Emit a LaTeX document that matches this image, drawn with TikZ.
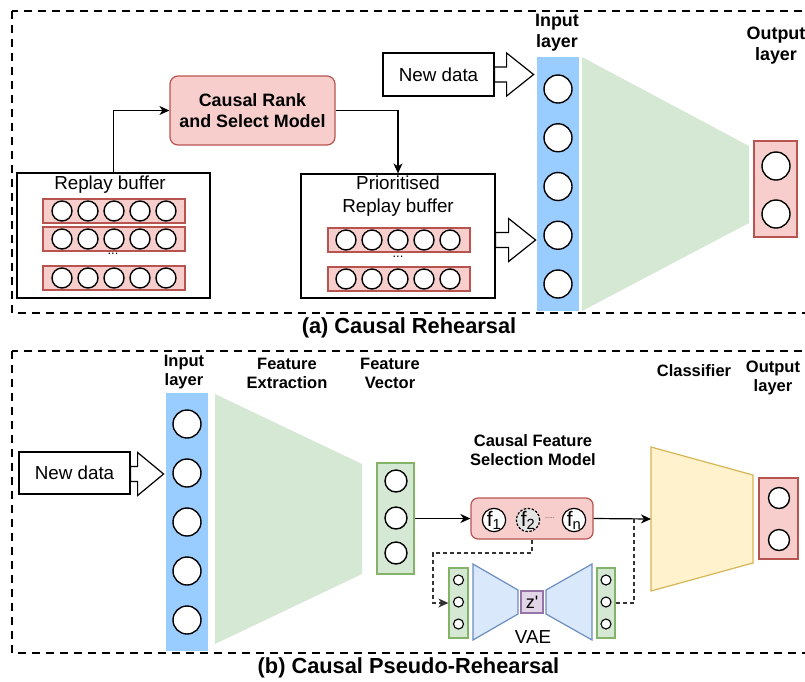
\documentclass[tikz,border=0pt]{standalone}
\usepackage{fontspec}
\setmainfont{Liberation Sans}
\usepackage{tikz}
\usetikzlibrary{arrows.meta}

\definecolor{redfill}{HTML}{F8CECC}
\definecolor{redline}{HTML}{B85450}
\definecolor{inblue}{HTML}{99CCFF}
\definecolor{greenfill}{HTML}{D5E8D4}
\definecolor{greenline}{HTML}{82B366}
\definecolor{yellowfill}{HTML}{FFF2CC}
\definecolor{yellowline}{HTML}{D6B656}
\definecolor{bluefill}{HTML}{DAE8FC}
\definecolor{blueline}{HTML}{6C8EBF}
\definecolor{purplefill}{HTML}{E1D5E7}
\definecolor{purpleline}{HTML}{9673A6}

\begin{document}
\begin{tikzpicture}[x=1pt,y=-1pt,font=\fontsize{18.8}{22}\selectfont]
\tikzstyle{unit}=[circle,draw,fill=white,line width=1.4pt,inner sep=0pt,minimum size=28pt]
\tikzstyle{sunit}=[unit,minimum size=20pt]
\tikzstyle{row}=[draw=redline,fill=redfill,line width=1.2pt,minimum width=142pt,minimum height=24pt,inner sep=0pt]
\tikzstyle{buffer}=[draw,line width=1.2pt,inner sep=0pt]
\tikzstyle{layer}=[inner sep=0pt,minimum width=42pt]
\tikzstyle{outlayer}=[draw=redline,fill=redfill,line width=1.2pt,inner sep=0pt]
\tikzstyle{vec}=[draw=greenline,fill=greenfill,line width=1.2pt,inner sep=0pt]
\tikzstyle{model}=[draw=redline,fill=redfill,line width=1.2pt,rounded corners=8pt,inner sep=0pt]
\tikzstyle{title}=[font=\fontsize{16.5}{19}\selectfont\bfseries,align=center]
\tikzstyle{fnode}=[circle,draw,fill=white,line width=1.2pt,inner sep=0pt,minimum size=21pt]
\tikzstyle{arr}=[line width=1.2pt,-{Stealth[length=10pt,width=9pt,inset=3pt]}]
\tikzstyle{dasharr}=[arr,draw=black!80,dash pattern=on 4pt off 3pt]
\tikzstyle{barrow}=[draw,fill=white,line width=1.2pt]
\tikzstyle{frame}=[line width=2pt,dash pattern=on 8pt off 6pt]

\useasboundingbox (0,0) rectangle (805,681);
\clip (0,0) rectangle (805,681);

% (a) Causal Rehearsal
\draw[frame] (12,11) rectangle (812,313);
\node[font=\fontsize{21.8}{24}\selectfont\bfseries] (capa) at (409,328) {(a) Causal Rehearsal};

\node[buffer,minimum width=193pt,minimum height=125pt] (rb) at (113.5,235.5) {};
\node (rbt) at (110,185) {Replay buffer};
\foreach \y [count=\i] in {211,239,278} {
  \node[row] (rr\i) at (114,\y) {};
  \foreach \k in {0,...,4}
    \node[sunit] (ru\i-\k) at (62+26*\k,\y) {};
}
\node[font=\fontsize{13}{13}\selectfont] (rbdots) at (113,254) {...};

\node[model,minimum width=165pt,minimum height=69pt,font=\fontsize{17.9}{21}\selectfont\bfseries,align=center] (crs) at (252.5,110.5) {Causal Rank\\and Select Model};

\node[buffer,minimum width=194pt,minimum height=124pt] (prb) at (398,236) {};
\node[align=center,font=\fontsize{18.8}{23.5}\selectfont] (prbt) at (398,196) {Prioritised\\Replay buffer};
\foreach \y [count=\i] in {240,279} {
  \node[row] (pr\i) at (399,\y) {};
  \foreach \k in {0,...,4}
    \node[sunit] (pu\i-\k) at (346+26*\k,\y) {};
}
\node[font=\fontsize{13}{13}\selectfont] (prdots) at (398,257) {...};

\draw[arr] (rb.north) |- (crs.west);
\draw[arr] (crs.east) -| (prb.north);

\node[buffer,minimum width=111pt,minimum height=43pt] (nd) at (438.5,74.5) {New data};
\draw[barrow] (nd.east) ++(0,-7.5) -- ++(12,0) -- ++(0,-14) -- ++(27,21.5) -- ++(-27,21.5) -- ++(0,-14) -- ++(-12,0) -- cycle;
\draw[barrow] (prb.east) ++(0,-3.5) -- ++(13,0) -- ++(0,-14) -- ++(27,21.5) -- ++(-27,21.5) -- ++(0,-14) -- ++(-13,0) -- cycle;

\node[layer,fill=inblue,minimum height=254pt] (in) at (558,184) {};
\foreach \k in {0,...,4}
  \node[unit] (iu\k) at (558,89+48.75*\k) {};
\node[title,font=\fontsize{17.9}{21}\selectfont\bfseries] (int) at (557,33) {Input\\layer};

\fill[greenfill] (582,57) -- (749,146) -- (749,223) -- (582,311) -- cycle;

\node[outlayer,minimum width=43pt,minimum height=96pt] (out) at (775.5,189) {};
\node[unit] (ou0) at (776,166) {};
\node[unit] (ou1) at (776,214) {};
\node[title,font=\fontsize{17.9}{21}\selectfont\bfseries] (outt) at (776,46) {Output\\layer};

% (b) Causal Pseudo-Rehearsal
\draw[frame] (12,351) rectangle (812,653);
\node[font=\fontsize{21.8}{24}\selectfont\bfseries] (capb) at (408.5,668) {(b) Causal Pseudo-Rehearsal};

\node[buffer,minimum width=111pt,minimum height=42pt] (nd2) at (74.5,473) {New data};
\draw[barrow] (nd2.east) ++(0,-6.5) -- ++(7,0) -- ++(0,-14) -- ++(26,21.5) -- ++(-26,21.5) -- ++(0,-14) -- ++(-7,0) -- cycle;

\node[layer,fill=inblue,minimum height=258pt] (in2) at (187,522) {};
\foreach \k in {0,...,4}
  \node[unit] (iv\k) at (187,424+49*\k) {};
\node[title] (in2t) at (184,372) {Input\\layer};

\fill[greenfill] (215,394) -- (362,464) -- (362,574) -- (215,644) -- cycle;
\node[title] (fet) at (287,373) {Feature\\Extraction};

\node[vec,minimum width=37pt,minimum height=111pt] (fv) at (395.5,518.5) {};
\foreach \y [count=\i] in {481,518,553}
  \node[unit,minimum size=22pt] (fu\i) at (396,\y) {};
\node[title] (fvt) at (390,373) {Feature\\Vector};

\node[model,rounded corners=7pt,minimum width=122pt,minimum height=41pt] (cfs) at (532,518.5) {};
\node[fnode] (f1) at (494,520) {\fontsize{21}{21}\selectfont f\textsubscript{1}};
\node[fnode,fill=black!10,dash pattern=on 2.5pt off 1.5pt] (f2) at (528,520) {\fontsize{21}{21}\selectfont f\textsubscript{2}};
\node[font=\fontsize{7}{7}\selectfont,text=black!75] (fdots) at (550,518) {.....};
\node[fnode] (fn) at (574,520) {\fontsize{21}{21}\selectfont f\textsubscript{n}};
\node[title] (cfst) at (533,450) {Causal Feature\\Selection Model};

\fill[yellowfill,draw=yellowline,line width=1.2pt] (651,447) -- (753,475) -- (753,563) -- (651,591) -- cycle;
\coordinate (clsin) at (651,519);
\node[title] (clst) at (694,371) {Classifier};

\node[outlayer,minimum width=39pt,minimum height=81pt] (out2) at (778.5,518.5) {};
\node[unit,minimum size=21pt] (ov0) at (779,498) {};
\node[unit,minimum size=21pt] (ov1) at (779,540) {};
\node[title] (out2t) at (773,378) {Output\\layer};

% VAE
\node[vec,minimum width=19pt,minimum height=70pt] (lv) at (458.5,603) {};
\node[vec,minimum width=18pt,minimum height=70pt] (rv) at (606,603) {};
\foreach \y [count=\i] in {580,602,624} {
  \node[circle,draw,fill=white,line width=1.1pt,inner sep=0pt,minimum size=10pt] (lu\i) at (458.5,\y) {};
  \node[circle,draw,fill=white,line width=1.1pt,inner sep=0pt,minimum size=10pt] (vu\i) at (606,\y) {};
}
\fill[bluefill,draw=blueline,line width=1.2pt] (473,564) -- (518,590) -- (518,614) -- (473,640) -- cycle;
\fill[bluefill,draw=blueline,line width=1.2pt] (546,590) -- (592,564) -- (592,640) -- (546,614) -- cycle;
\node[draw=purpleline,fill=purplefill,line width=1.2pt,minimum size=22pt,inner sep=0pt,font=\fontsize{18}{18}\selectfont] (z) at (532,602) {z\textquotesingle};
\node (vaet) at (533,637) {VAE};

\draw[arr] (fv.east) -- (cfs.west);
\draw[arr] (cfs.east) -- (clsin);
\coordinate (k1) at (433,553);
\coordinate (k2) at (634,519);
\draw[dasharr] (cfs.south) |- (k1) |- (lv.west);
\draw[line width=1.2pt,draw=black!80,dash pattern=on 4pt off 3pt] (rv.east) -| (k2);
\end{tikzpicture}
\end{document}
